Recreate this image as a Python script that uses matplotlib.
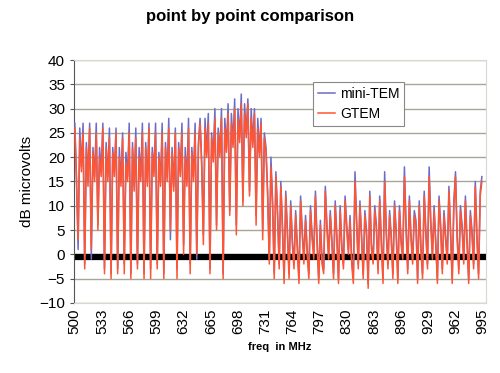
import matplotlib
matplotlib.use("Agg")
import matplotlib.pyplot as plt
import numpy as np

plt.rcParams['font.family'] = ['Liberation Sans', 'DejaVu Sans']

# readings every 2 MHz, estimated from the original chart
gtem_a = [26, 15, 3, 24, 17, 25, -3, 22, 14, 26,
          1, 21, 15, 25, 5, 20, 16, 26, -4, 22,
          15, 24, -5, 21, 16, 25, -4, 20, 14, 24,
          -4, 19, 15, 25, -5, 22, 13, 24, -3, 20,
          15, 25, -5, 22, 14, 26, -5, 21, 16, 25,
          -3, 20, 14, 25, -5, 22, 15, 26, 5, 21,
          13, 25, -5, 22, 16, 25, 0, 20, 14, 26,
          -4, 21, 15, 25, 0, 22]
gtem_b = [27, 18, 2, 26, 20, 27, -4, 24, 19, 28,
          5, 25, 20, 28, -5, 26, 21, 29, 8, 27,
          22, 30, 4, 28, 23, 31, 10, 29, 24, 31,
          12, 28, 22, 29, 6, 26, 20, 27, 3, 24]
gtem_c = [21, 12, -2, 18, 10, -5, 16, 8, -3, 14, 5, -6, 12, 4, -5]
gtem_d = [10, 2, -3, 8, 1, -6, 11, 4, -2, 7,
          0, -5, 9, 3, -1, 12, 2, -6, 6, -2,
          -4, 13, 5, -1, 8, 2, -5, 10, 3, -6,
          9, 1, -3, 11, 5, 0, 7, -2, -6, 15,
          6, -3, 10, 3, -5, 8, 4, -7, 12, 1,
          -2, 9, 5, -4, 11, 2, -6, 15, 4, -3,
          8, 3, -5, 10, 4, -6, 9, 2, -1, 16,
          5, -4, 11, 3, -2, 8, 6, -6, 10, 1,
          -5, 12, 4, -3, 16, 6, -1, 9, 2, -6,
          11, 5, -4, 8, 3, -2, 13, 4, -6, 10,
          16, 3, -4, 9, 5, -2, 11, 2, -6, 8,
          4, -3, 14, 3, -5, 12, 15]

mini_a = [27, 16, 1, 26, 18, 27, -2, 23, 16, 27,
          -1, 22, 16, 27, 6, 22, 17, 27, -3, 23,
          16, 26, -4, 22, 17, 26, -3, 22, 15, 25,
          -2, 21, 16, 27, -4, 23, 14, 26, -2, 22,
          16, 27, -4, 23, 15, 27, -3, 22, 17, 27,
          -2, 21, 15, 27, -4, 23, 16, 28, 3, 22,
          14, 26, -3, 23, 17, 27, 2, 22, 15, 28,
          -2, 22, 16, 27, -1, 23]
mini_b = [28, 19, 4, 28, 21, 29, -3, 25, 20, 30,
          6, 26, 21, 30, -4, 28, 22, 31, 9, 29,
          23, 32, 6, 30, 24, 33, 11, 31, 25, 32,
          13, 30, 23, 30, 8, 28, 21, 28, 5, 25]
mini_c = [22, 13, -1, 20, 11, -4, 17, 9, -2, 15, 6, -5, 13, 5, -4]
mini_d = [11, 3, -2, 9, 2, -5, 12, 5, -1, 8,
          1, -4, 10, 4, 0, 13, 3, -5, 7, -1,
          -3, 14, 6, 0, 9, 3, -4, 11, 4, -5,
          10, 2, -2, 12, 6, 1, 8, -1, -5, 17,
          7, -2, 11, 4, -4, 9, 5, -6, 13, 2,
          -1, 10, 6, -3, 12, 3, -5, 17, 5, -2,
          9, 4, -4, 11, 5, -5, 10, 3, 0, 18,
          6, -3, 12, 4, -1, 9, 7, -5, 11, 2,
          -4, 13, 5, -2, 18, 7, 0, 10, 3, -5,
          12, 6, -3, 9, 4, -1, 14, 5, -5, 11,
          17, 4, -3, 10, 6, -1, 12, 3, -5, 9,
          5, -2, 15, 4, -4, 13, 16]

gtem = gtem_a + gtem_b + gtem_c + gtem_d
mini_tem = mini_a + mini_b + mini_c + mini_d
freq = np.arange(500, 500 + 2 * len(gtem), 2)

tick_freqs = list(range(500, 996, 33))
floor_level = -0.5

fig = plt.figure(figsize=(5, 3.73), dpi=100)
ax = fig.add_axes([0.148, 0.188, 0.824, 0.651])

for v in range(-10, 41, 5):
    ax.axhline(v, color='#a6a698', lw=1, zorder=1)
ax.axhline(floor_level, color='black', lw=4.5, zorder=2)

ax.plot(freq, mini_tem, color='#6c6cc8', lw=1.1, label='mini-TEM', zorder=3)
ax.plot(freq, gtem, color='#ff5533', lw=1.1, label='GTEM', zorder=4)

ax.set_xlim(499, 999)
ax.set_ylim(-10, 40)
ax.set_yticks(range(-10, 41, 5))
ax.set_xticks(tick_freqs)
ax.set_xticklabels([str(t) for t in tick_freqs], rotation=90, fontsize=11)
ax.tick_params(axis='y', labelsize=11, length=3, color='#555555')
ax.tick_params(axis='x', length=0, pad=4)

for s in ['top', 'right', 'bottom']:
    ax.spines[s].set_color('#d8d8d0')
ax.spines['left'].set_color('#555555')

ax.set_ylabel('dB microvolts', fontsize=11)
ax.set_xlabel('freq  in MHz', fontsize=8, fontweight='bold', labelpad=6)
fig.suptitle('point by point comparison', fontsize=12, fontweight='bold',
             x=0.5, y=0.975)

leg = ax.legend(loc='upper left', bbox_to_anchor=(313 / 500, 1 - 82 / 373),
                bbox_transform=fig.transFigure, borderaxespad=0, fontsize=10,
                fancybox=False, framealpha=1, edgecolor='#888888',
                handlelength=1.2, handletextpad=0.4, borderpad=0.35,
                labelspacing=0.45)
leg.get_frame().set_linewidth(0.8)

fig.savefig('out.png', dpi=100)
